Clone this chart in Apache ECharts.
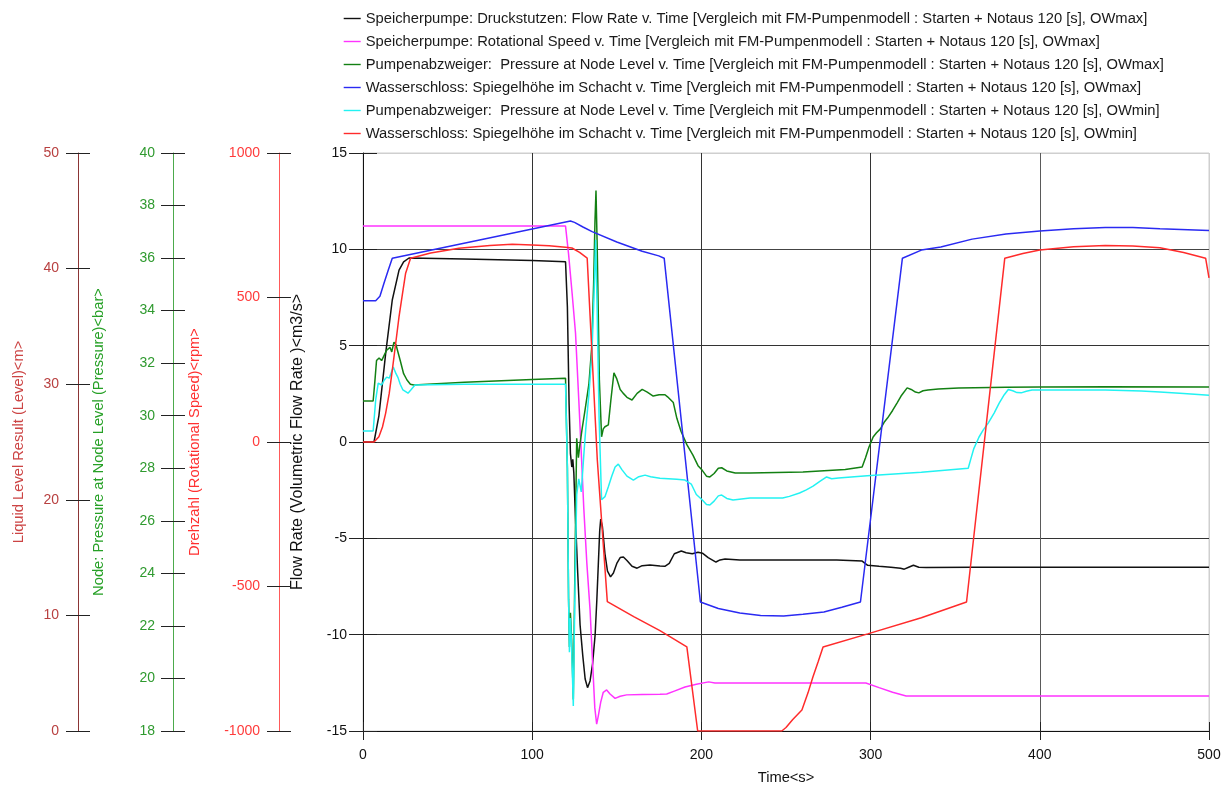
<!DOCTYPE html>
<html>
<head>
<meta charset="utf-8">
<title>Speicherpumpe – Starten + Notaus 120 s</title>
<script src="https://cdn.jsdelivr.net/npm/echarts@6/dist/echarts.min.js"></script>
<style>
  html, body { margin: 0; padding: 0; background: #ffffff; }
  #chart { width: 1231px; height: 785px; }
</style>
</head>
<body>
<div id="chart"></div>
<script>
// ---- axis scales ----------------------------------------------------------
const timeAxis     = { min: 0,     max: 500,  interval: 100 };
const flowAxis     = { min: -15,   max: 15,   interval: 5 };
const speedAxis    = { min: -1000, max: 1000, interval: 500 };
const pressureAxis = { min: 18,    max: 40,   interval: 2 };
const levelAxis    = { min: 0,     max: 50,   interval: 10 };

// ---- series names ---------------------------------------------------------
const seriesNames = [
  'Speicherpumpe: Druckstutzen: Flow Rate v. Time [Vergleich mit FM-Pumpenmodell : Starten + Notaus 120 [s], OWmax]',
  'Speicherpumpe: Rotational Speed v. Time [Vergleich mit FM-Pumpenmodell : Starten + Notaus 120 [s], OWmax]',
  'Pumpenabzweiger:  Pressure at Node Level v. Time [Vergleich mit FM-Pumpenmodell : Starten + Notaus 120 [s], OWmax]',
  'Wasserschloss: Spiegelhöhe im Schacht v. Time [Vergleich mit FM-Pumpenmodell : Starten + Notaus 120 [s], OWmax]',
  'Pumpenabzweiger:  Pressure at Node Level v. Time [Vergleich mit FM-Pumpenmodell : Starten + Notaus 120 [s], OWmin]',
  'Wasserschloss: Spiegelhöhe im Schacht v. Time [Vergleich mit FM-Pumpenmodell : Starten + Notaus 120 [s], OWmin]'
];

// ---- series values: [time s, value] --------------------------------------
// flow rate at the pump outlet, m3/s (OWmax)
const flowRate = [
  [0,0],[6.5,0],[9.4,1.36],[13.4,4.6],[17.3,7.37],[21.3,8.92],[24,9.35],[27.2,9.55],
  [60,9.5],[100,9.42],[119.7,9.35],[120.8,7],[121.8,2],[122.6,-0.6],[123.4,-1.3],[124,-0.9],
  [124.6,-1.6],[125.5,-3.8],[126.9,-6.8],[128.3,-9.5],[129.9,-11.1],[131.3,-12.3],[132.7,-12.75],
  [134.2,-12.4],[135.7,-11.5],[137.2,-10.0],[138.2,-8.2],[139.1,-6.3],[139.9,-4.6],[140.5,-4.0],
  [141.5,-4.4],[143,-5.8],[144.5,-6.7],[146.3,-7.0],[148,-6.8],[150,-6.3],[152,-6.0],[153.9,-5.97],
  [156,-6.15],[159,-6.45],[162,-6.55],[165,-6.42],[169.6,-6.38],[175.5,-6.44],[178.4,-6.45],
  [181,-6.3],[184,-5.8],[188.1,-5.66],[191,-5.75],[194.6,-5.8],[198,-5.72],[200.6,-5.77],
  [204,-6.0],[208.6,-6.23],[211,-6.12],[214,-6.07],[222.7,-6.12],[250,-6.12],[280,-6.12],
  [295,-6.18],[298.3,-6.4],[305,-6.45],[312,-6.5],[317.7,-6.55],[319.9,-6.6],[322.5,-6.5],
  [325.3,-6.4],[328.5,-6.5],[332.8,-6.52],[360,-6.5],[420,-6.5],[500,-6.5]
];

// pump speed, rpm (OWmax)
const rotSpeed = [
  [0,747],[119.7,747],[121.5,650],[123.6,514],[125.6,377],[127.5,150],[129.2,-62],[130.5,-230],
  [132.3,-420],[134.2,-581],[136,-800],[137,-920],[138.1,-976],[139,-950],[140.5,-900],[142,-866],
  [144,-858],[146,-872],[149,-887],[152,-880],[155.8,-875],[165,-874],[175.5,-873],[179.5,-872],
  [184,-862],[190.3,-848],[197,-838],[204.3,-830],[208,-834],[211.9,-834],[250,-834],[297.2,-834],
  [305,-850],[313,-866],[321,-879],[400,-879],[500,-879]
];

// node pressure at the branch, bar (OWmax)
const pressureMax = [
  [0,30.56],[6,30.56],[7,31.3],[8,32.1],[9.5,32.2],[11,32.1],[12.5,32.3],[14,32.5],[16,32.6],
  [17,32.43],[18.3,32.8],[19.5,32.7],[22,32.1],[24,31.6],[26,31.36],[28,31.2],[30,31.17],
  [60,31.27],[100,31.38],[119.7,31.43],[120.8,28],[121.5,23],[122,21.2],[122.6,22.5],[123.3,21.5],
  [124.3,19.2],[125.3,24.5],[126.3,29.14],[127.3,28.4],[128.2,28.9],[129.5,29.5],[131.2,30.2],
  [133.5,31.2],[135.2,32.63],[136.3,35.0],[137.1,37.4],[137.7,38.57],[138.4,36.5],[139.7,31.36],
  [141,29.2],[142,29.5],[143,29.58],[145,29.65],[146.5,30.6],[148.3,31.63],[150,31.4],[152,31.0],
  [153.7,30.86],[156,30.7],[159,30.6],[162,30.85],[165,31.0],[168,30.9],[171.5,30.75],[175,30.8],
  [178.5,30.8],[180,30.72],[183.4,30.5],[185.5,29.9],[188,29.4],[191.4,28.9],[195,28.5],[198,28.1],
  [200.4,27.93],[203,27.7],[205,27.67],[207.5,27.8],[210,28.0],[212,28.02],[215,27.9],[220,27.82],
  [228.7,27.82],[260,27.86],[285,27.95],[295,28.05],[297,28.4],[299,28.8],[301.5,29.19],
  [303.5,29.35],[305.8,29.5],[308,29.75],[310,29.91],[313,30.2],[315.6,30.48],[318,30.75],
  [321.6,31.06],[324,31.0],[326.5,30.9],[328.5,30.87],[331,30.95],[333.9,30.98],[340,31.02],
  [352,31.06],[380,31.08],[400,31.09],[440,31.1],[500,31.09]
];

// surge tank water level, m (OWmax)
const levelMax = [
  [0,37.22],[7.5,37.22],[10,37.6],[12.4,38.73],[15,39.9],[17.3,40.9],[122.6,44.12],[125,44.0],
  [130,43.6],[135.4,43.2],[150,42.3],[165,41.5],[174.8,41.1],[178,40.9],[199.4,11.16],[210,10.6],
  [222.7,10.2],[235,10.0],[248.6,9.95],[260,10.1],[272.4,10.3],[283,10.7],[294,11.16],[318.8,40.9],
  [330,41.6],[341.5,41.87],[360,42.55],[380,43.0],[400,43.25],[420,43.45],[438.7,43.55],
  [455,43.55],[471,43.45],[500,43.3]
];

// node pressure at the branch, bar (OWmin)
const pressureMin = [
  [0,29.42],[6,29.42],[7.5,30.6],[9,31.24],[11,31.17],[12.5,31.35],[14,31.47],[15.5,31.43],
  [17.9,31.85],[19.5,31.6],[20.7,31.45],[22,31.2],[23.6,30.98],[26.6,30.86],[28.5,31.0],
  [30.7,31.17],[60,31.2],[100,31.2],[119.7,31.2],[120.8,28],[121.5,23],[122,21.0],[122.6,22.3],
  [123.3,21.2],[124.3,18.95],[125.3,23.5],[126.3,27.0],[127.5,27.6],[129,27.1],[130.5,28.5],
  [131.6,29.46],[133.5,30.8],[135.3,32.4],[136.5,34.5],[137.5,36.7],[138.4,34],[139.5,30],
  [141,26.8],[143,26.92],[145,27.3],[147,27.7],[149,28.05],[150.9,28.16],[153,27.95],[156,27.7],
  [159.8,27.55],[163,27.68],[166.7,27.74],[170,27.68],[175.5,27.62],[185.4,27.58],[190.3,27.55],
  [194,27.4],[197,27.0],[200.4,26.8],[203,26.62],[205,26.6],[207.5,26.75],[210,26.95],[212,26.98],
  [215,26.85],[218.7,26.79],[228.7,26.87],[248,26.87],[252,26.93],[258,27.06],[262,27.18],
  [266,27.32],[270,27.5],[274,27.67],[277,27.6],[281,27.63],[298,27.72],[330,27.85],[357.7,28.0],
  [359,28.3],[361,28.75],[364.1,29.19],[366.5,29.45],[369.5,29.72],[373,30.1],[376,30.48],
  [379,30.8],[381.4,31.0],[384,30.95],[386.5,30.88],[389,30.87],[392,30.93],[395.4,30.98],
  [410,30.98],[438.7,30.98],[460,30.94],[471,30.9],[485,30.85],[500,30.78]
];

// surge tank water level, m (OWmin)
const levelMin = [
  [0,25],[6.5,25],[9.4,25.46],[11.5,26.3],[13.4,27.5],[15.5,29.2],[17.3,31.2],[19.3,33.5],
  [21.3,35.84],[23.3,37.8],[25.2,39.6],[28.1,40.9],[40,41.35],[56.7,41.76],[75,42.0],[88.2,42.1],
  [100,42.05],[110,41.98],[119.7,41.84],[123.5,41.78],[128,41.4],[132.5,40.9],[138.5,23.4],
  [144.4,11.19],[160,9.9],[175.5,8.68],[191.4,7.27],[197.8,0],[247.5,0],[250,0.3],[254,1.0],
  [259.4,1.82],[263,3.3],[265.9,4.67],[269,6.0],[271.9,7.27],[298.3,8.4],[330,9.8],[356.7,11.16],
  [379.3,40.9],[390,41.3],[400,41.6],[420,41.9],[438.7,42.0],[455,41.95],[471,41.8],[485,41.4],
  [498,40.9],[500,39.2]
];

// ---- styling ---------------------------------------------------------------
const FONT = "'Liberation Sans', Arial, Helvetica, sans-serif";
const seriesColors = ['#111111', '#ff33ff', '#138013', '#2a2af2', '#22f2f2', '#ff2b2b'];
const TICK = '#222222';
const plainNumber = v => String(v);

// A visible y axis, plus a twin shifted into the plot by the tick length so
// that each tick crosses the axis line on both sides.
function yAxisPair(scale, offset, opt) {
  const main = {
    type: 'value', position: 'left', offset: offset,
    min: scale.min, max: scale.max, interval: scale.interval,
    name: opt.name, nameLocation: 'middle', nameGap: opt.nameGap, nameRotate: 90,
    nameTextStyle: { color: opt.nameColor, fontSize: opt.nameSize || 14.7, fontFamily: FONT },
    axisLine: { show: true, onZero: false, lineStyle: { color: opt.lineColor, width: 1 } },
    axisTick: { show: true, inside: false, length: opt.tickLen, lineStyle: { color: TICK, width: 1 } },
    axisLabel: { show: true, margin: opt.margin, color: opt.labelColor, fontSize: 14,
                 fontFamily: FONT, formatter: plainNumber },
    splitLine: opt.split || { show: false }
  };
  const twin = {
    type: 'value', position: 'left', offset: offset - opt.tickLen,
    min: scale.min, max: scale.max, interval: scale.interval,
    axisLine: { show: false, onZero: false },
    axisTick: { show: true, inside: false, length: opt.tickLen, lineStyle: { color: TICK, width: 1 } },
    axisLabel: { show: false },
    splitLine: { show: false }
  };
  return [main, twin];
}

const yAxes = [].concat(
  yAxisPair(flowAxis, 0, {
    name: 'Flow Rate (Volumetric Flow Rate )<m3/s>', nameGap: 57, nameColor: '#111111', nameSize: 16,
    lineColor: '#111111', labelColor: '#111111', margin: 16, tickLen: 14,
    split: { show: true, lineStyle: { width: 1,
      color: ['#222222', '#333333', '#333333', '#333333', '#333333', '#444444', '#cfcfcf'] } }
  }),
  yAxisPair(speedAxis, 84, {
    name: 'Drehzahl (Rotational Speed)<rpm>', nameGap: 77, nameColor: '#ff3030',
    lineColor: '#ff5a5a', labelColor: '#ff3b3b', margin: 19, tickLen: 12
  }),
  yAxisPair(pressureAxis, 190, {
    name: 'Node: Pressure at Node Level (Pressure)<bar>', nameGap: 67, nameColor: '#26a026',
    lineColor: '#4caa4c', labelColor: '#2f9a2f', margin: 18, tickLen: 12
  }),
  yAxisPair(levelAxis, 285, {
    name: 'Liquid Level Result (Level)<m>', nameGap: 52, nameColor: '#cc4444',
    lineColor: '#8b3535', labelColor: '#b84040', margin: 19, tickLen: 12
  })
);

const xAxes = [
  {
    type: 'value', position: 'bottom',
    min: timeAxis.min, max: timeAxis.max, interval: timeAxis.interval,
    name: 'Time<s>', nameLocation: 'middle', nameGap: 39,
    nameTextStyle: { color: '#111111', fontSize: 14.7, fontFamily: FONT },
    axisLine: { show: true, onZero: false, lineStyle: { color: '#111111', width: 1 } },
    axisTick: { show: true, inside: false, length: 9, lineStyle: { color: TICK, width: 1 } },
    axisLabel: { show: true, margin: 17, color: '#111111', fontSize: 14, fontFamily: FONT,
                 formatter: plainNumber },
    splitLine: { show: true, lineStyle: { width: 1,
      color: ['#333333', '#333333', '#333333', '#333333', '#5a5a5a', '#cfcfcf'] } }
  },
  {
    type: 'value', position: 'bottom', offset: -9,
    min: timeAxis.min, max: timeAxis.max, interval: timeAxis.interval,
    axisLine: { show: false, onZero: false },
    axisTick: { show: true, inside: false, length: 9, lineStyle: { color: TICK, width: 1 } },
    axisLabel: { show: false },
    splitLine: { show: false }
  }
];

const seriesData = [flowRate, rotSpeed, pressureMax, levelMax, pressureMin, levelMin];
const seriesAxis = [0, 2, 4, 6, 4, 6];

// legend entries: a plain short stroke in the series colour, no marker
const legendItems = seriesNames.map((n, i) => ({
  name: n,
  icon: 'line',
  itemStyle: { color: seriesColors[i], borderColor: seriesColors[i], borderWidth: 1.4, opacity: 1 }
}));

const chart = echarts.init(document.getElementById('chart'), null, { renderer: 'canvas' });
chart.setOption({
  animation: false,
  backgroundColor: '#ffffff',
  color: seriesColors,
  grid: {
    left: 363, right: 22, top: 153, bottom: 54,
    containLabel: false, outerBoundsMode: 'none',
    show: true, borderColor: '#cfcfcf', borderWidth: 1, backgroundColor: 'transparent'
  },
  legend: {
    orient: 'vertical', left: 343, top: 11, padding: 0,
    itemWidth: 17, itemHeight: 14, itemGap: 8,
    selectedMode: false,
    textStyle: { color: '#1a1a1a', fontSize: 14.75, fontFamily: FONT },
    data: legendItems
  },
  xAxis: xAxes,
  yAxis: yAxes,
  series: seriesData.map((d, i) => ({
    name: seriesNames[i],
    type: 'line',
    xAxisIndex: 0,
    yAxisIndex: seriesAxis[i],
    data: d,
    symbol: 'none',
    showSymbol: false,
    lineStyle: { width: 1.5, color: seriesColors[i] },
    itemStyle: { color: seriesColors[i] },
    emphasis: { disabled: true },
    z: 2 + i
  }))
});
</script>
</body>
</html>
